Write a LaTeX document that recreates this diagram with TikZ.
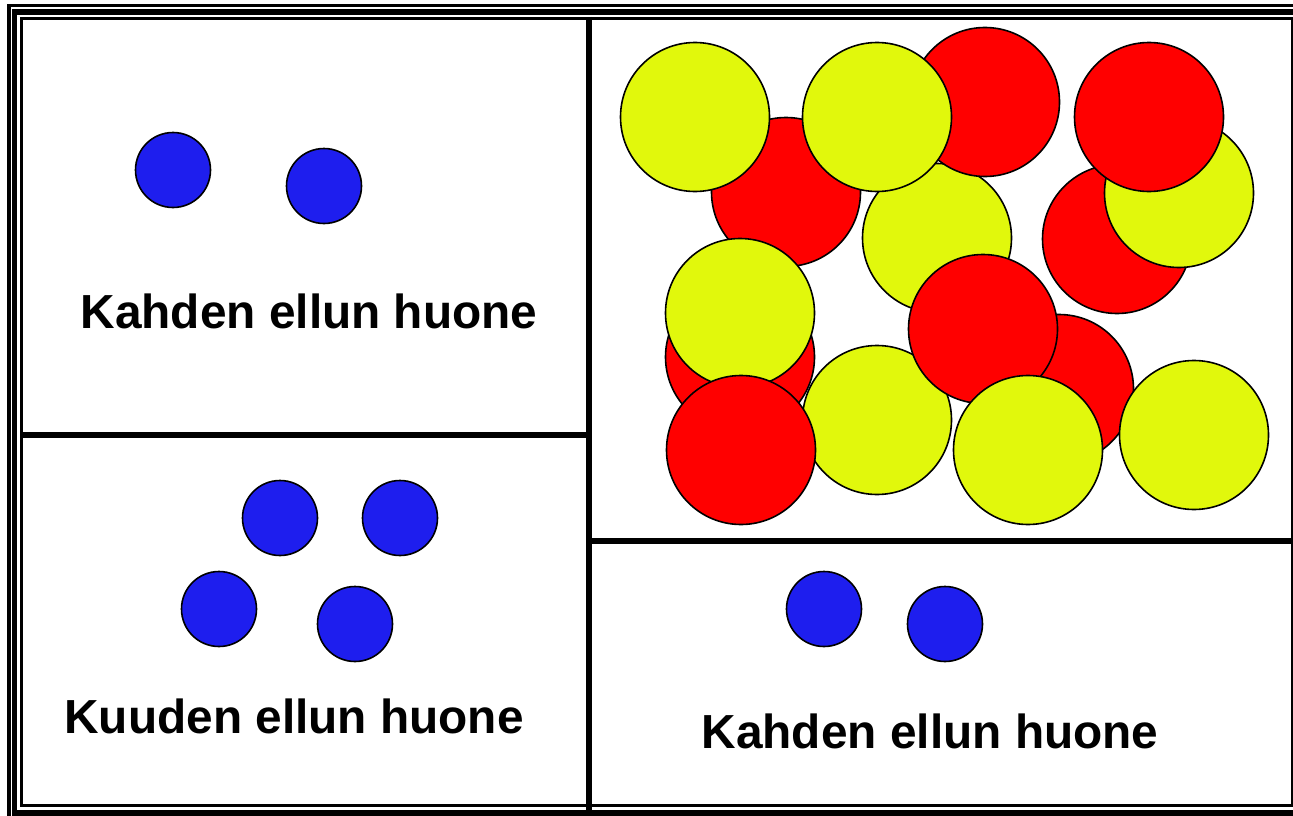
\documentclass[tikz,border=0pt]{standalone}
\usepackage{fontspec}
\setsansfont{Liberation Sans}
\usepackage{xcolor}
\usepackage{tikz}
\usetikzlibrary{positioning}

\definecolor{ballBlue}{RGB}{30,30,238}
\definecolor{ballRed}{RGB}{255,0,0}
\definecolor{ballYellow}{RGB}{225,248,12}

\begin{document}
\begin{tikzpicture}[
		x=1pt, y=-1pt,
		font=\sffamily\bfseries\fontsize{47.8}{56}\selectfont,
		baseDot/.style={circle, draw=black, line width=1.6pt, inner sep=0pt},
		blueDot/.style={baseDot, fill=ballBlue, minimum size=75pt},
		redBall/.style={baseDot, fill=ballRed, minimum size=149pt},
		yellowBall/.style={baseDot, fill=ballYellow, minimum size=149pt},
		roomText/.style={anchor=base, inner sep=0pt},
		wallLine/.style={draw=black, line width=5.5pt}
		]

		\clip (0,0) rectangle (1293,816);
		\fill[white] (0,0) rectangle (1293,816);

		% Kehys
		\draw[line width=3.5pt] (9,5.5) rectangle (1320,830);
		\draw[line width=5.5pt] (14.5,12) rectangle (1300,813);
		\draw[line width=3pt] (21.5,18.5) rectangle (1292,805);

		% Seinät
		\draw[wallLine] (589,17) -- (589,816);
		\draw[wallLine] (21,435) -- (589,435);
		\draw[wallLine] (589,541) -- (1293,541);

		% Pallot
		\node[blueDot] (b1) at (173,170) {};
		\node[blueDot] (b2) at (324,186) {};
		\node[blueDot] (b3) at (280,518) {};
		\node[blueDot] (b4) at (400,518) {};
		\node[blueDot] (b5) at (219,609) {};
		\node[blueDot] (b6) at (355,624) {};
		\node[blueDot] (b7) at (824,609) {};
		\node[blueDot] (b8) at (945,624) {};

		\node[redBall] (r1) at (786,192) {};
		\node[yellowBall] (y1) at (937,238) {};
		\node[redBall] (r2) at (985,102) {};
		\node[yellowBall] (y2) at (695,117) {};
		\node[yellowBall] (y3) at (877,117) {};
		\node[redBall] (r3) at (740,357) {};
		\node[yellowBall] (y4) at (740,313) {};
		\node[yellowBall] (y5) at (877,420) {};
		\node[redBall] (r4) at (1059,389) {};
		\node[redBall] (r5) at (983,329) {};
		\node[redBall] (r6) at (741,450) {};
		\node[yellowBall] (y6) at (1028,450) {};
		\node[yellowBall] (y7) at (1194,435) {};
		\node[redBall] (r7) at (1117,239) {};
		\node[yellowBall] (y8) at (1179,193) {};
		\node[redBall] (r8) at (1149,117) {};

		% Tekstit
		\node[roomText] (kahden1) at (309,328) {Kahden ellun huone};
		\node[roomText] (kuuden) at (294,733) {Kuuden ellun huone};
		\node[roomText] (kahden2) at (930,748) {Kahden ellun huone};

	\end{tikzpicture}
\end{document}
